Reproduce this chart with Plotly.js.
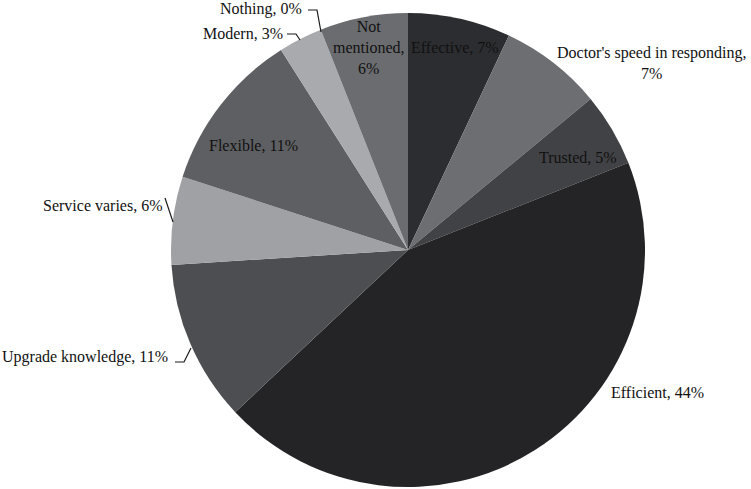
<!DOCTYPE html>
<html>
<head>
<meta charset="utf-8">
<script src="https://cdn.plot.ly/plotly-3.0.1.min.js"></script>
<style>html,body{margin:0;padding:0;background:#fff;}#chart{width:751px;height:489px;}</style>
</head>
<body>
<div id="chart"></div>
<script>
// Data (clockwise from 12 o'clock)
const categories = ["Effective", "Doctor's speed in responding", "Trusted", "Efficient", "Upgrade knowledge", "Service varies", "Flexible", "Modern", "Nothing", "Not mentioned"];
const percentValues = [7, 7, 5, 44, 11, 6, 11, 3, 0, 6];
const sliceColors = ["#2c2d30", "#6d6e71", "#414245", "#242427", "#4d4e51", "#a0a1a4", "#5e5f62", "#a9aaad", "#888888", "#6b6c6f"];

const W = 751, H = 489;
const px = x => x / W;
const py = y => 1 - y / H;

// Label placements (pixel centers) and text
const labelText = (i, br) => categories[i] + "," + (br ? "<br>" : " ") + percentValues[i] + "%";
const labelSpecs = [
  {i: 0, x: 455, y: 48, text: labelText(0)},
  {i: 1, x: 652, y: 63, text: labelText(1, true)},
  {i: 2, x: 578, y: 157, text: labelText(2)},
  {i: 3, x: 657, y: 392, text: labelText(3)},
  {i: 4, x: 85, y: 357, text: labelText(4)},
  {i: 5, x: 103, y: 205, text: labelText(5)},
  {i: 6, x: 253, y: 145, text: labelText(6)},
  {i: 7, x: 243, y: 33, text: labelText(7)},
  {i: 8, x: 261, y: 9, text: labelText(8)},
  {i: 9, x: 369, y: 47, text: "Not<br>mentioned,<br>" + percentValues[9] + "%"}
];

const annotations = labelSpecs.map(s => ({
  xref: "paper", yref: "paper",
  x: px(s.x), y: py(s.y),
  xanchor: "center", yanchor: "middle",
  text: s.text, showarrow: false, align: "center",
  font: {family: "Liberation Serif, DejaVu Serif, serif", size: 16, color: "#111111"}
}));

function pathPx(points) {
  return points.map((p, k) => (k ? "L" : "M") + px(p[0]) + "," + py(p[1])).join(" ");
}
const leaderLines = [
  [[308, 10], [317, 10], [321, 32]],
  [[287, 34], [296, 34], [300, 40]],
  [[165, 198], [173, 222]],
  [[175, 362], [184, 362], [191, 348]]
];
const shapes = leaderLines.map(pts => ({
  type: "path", xref: "paper", yref: "paper",
  path: pathPx(pts),
  line: {color: "#1a1a1a", width: 1.2}
}));

const trace = {
  type: "pie",
  labels: categories,
  values: percentValues,
  sort: false,
  direction: "clockwise",
  rotation: 0,
  textinfo: "none",
  hoverinfo: "label+percent",
  marker: {colors: sliceColors, line: {width: 0}},
  domain: {x: [px(171), px(645)], y: [py(487), py(13)]},
  showlegend: false
};

const layout = {
  width: W, height: H,
  margin: {l: 0, r: 0, t: 0, b: 0},
  paper_bgcolor: "#ffffff",
  plot_bgcolor: "#ffffff",
  showlegend: false,
  annotations: annotations,
  shapes: shapes
};

Plotly.newPlot("chart", [trace], layout, {displayModeBar: false, staticPlot: true});
</script>
</body>
</html>
